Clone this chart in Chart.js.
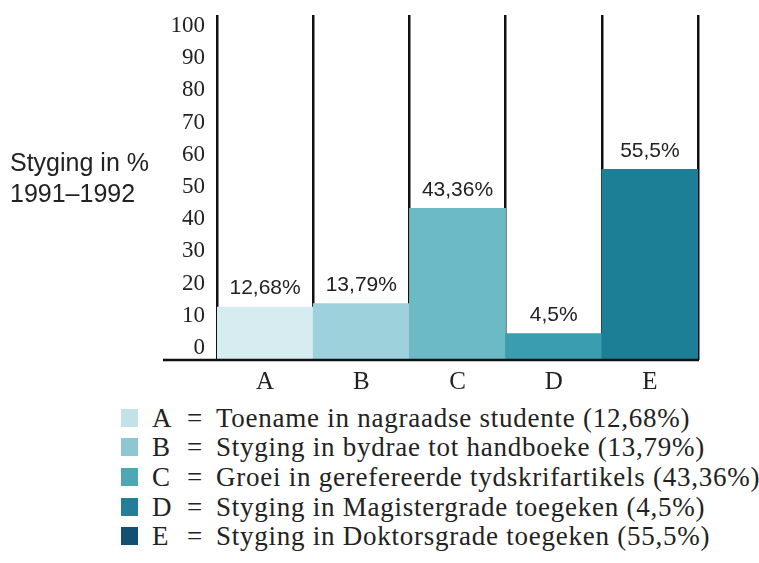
<!DOCTYPE html>
<html>
<head>
<meta charset="utf-8">
<script src="https://cdn.jsdelivr.net/npm/chart.js@4.4.1/dist/chart.umd.min.js"></script>
<style>
  body { margin: 0; background: #fff; width: 759px; height: 563px; position: relative; overflow: hidden; }
  #wrap { position: absolute; left: 0; top: 0; width: 759px; height: 400px; }
  #ytitle { position: absolute; left: 10px; top: 147px; font: 25px "Liberation Sans", Arial, sans-serif; line-height: 31px; color: #222; }
  #legend { position: absolute; left: 0; top: 403.5px; font: 27px "Liberation Serif", serif; color: #222; }
  .row { position: relative; height: 29.7px; line-height: 29.7px; white-space: nowrap; }
  .row .sq { position: absolute; left: 121px; top: 5px; width: 17px; height: 18px; }
  .row .k { position: absolute; left: 152px; }
  .row .eq { position: absolute; left: 187px; }
  .row .t { position: absolute; left: 216px; letter-spacing: 0.75px; }
</style>
</head>
<body>
<div id="wrap"><canvas id="chart"></canvas></div>
<div id="ytitle">Styging in %<br>1991–1992</div>
<div id="legend"></div>
<script>
const categories = ["A", "B", "C", "D", "E"];
const values = [12.68, 13.79, 43.36, 4.5, 55.5];
const descriptions = [
    "Toename in nagraadse studente",
    "Styging in bydrae tot handboeke",
    "Groei in gerefereerde tydskrifartikels",
    "Styging in Magistergrade toegeken",
    "Styging in Doktorsgrade toegeken"
];
const yTicks = [0, 10, 20, 30, 40, 50, 60, 70, 80, 90, 100];
const barColors = ["#d6ecf1", "#9dd2dc", "#6cbac6", "#3a9db0", "#1d7f96"];
const legendColors = ["#c4e0e8", "#8dc7d3", "#4fa7b6", "#237f99", "#124f73"];

const yMin = -3.73;
const yMax = 103.4;
const fmt = v => String(v).replace(".", ",") + "%";

// legend below the chart
const legend = document.getElementById("legend");
categories.forEach((c, i) => {
    const row = document.createElement("div");
    row.className = "row";
    row.innerHTML = '<span class="sq" style="background:' + legendColors[i] + '"></span>' +
        '<span class="k">' + c + '</span><span class="eq">=</span>' +
        '<span class="t">' + descriptions[i] + ' (' + fmt(values[i]) + ')</span>';
    legend.appendChild(row);
});

const valueLabels = {
    id: "valueLabels",
    afterDatasetsDraw(chart) {
        const ctx = chart.ctx;
        const meta = chart.getDatasetMeta(0);
        ctx.save();
        ctx.font = '21px "Liberation Sans", Arial, sans-serif';
        ctx.fillStyle = "#222";
        ctx.textAlign = "center";
        ctx.textBaseline = "bottom";
        meta.data.forEach((bar, i) => {
            ctx.fillText(fmt(values[i]), bar.x, bar.y - 8);
        });
        ctx.restore();
    }
};

const baseline = {
    id: "baseline",
    afterDraw(chart) {
        const ctx = chart.ctx;
        const a = chart.chartArea;
        ctx.save();
        ctx.strokeStyle = "#111";
        ctx.lineWidth = 2.5;
        ctx.beginPath();
        ctx.moveTo(163, a.bottom);
        ctx.lineTo(a.right + 1, a.bottom);
        ctx.stroke();
        ctx.restore();
    }
};

new Chart(document.getElementById("chart"), {
    type: "bar",
    data: {
        labels: categories,
        datasets: [{
            data: values,
            backgroundColor: barColors,
            borderWidth: 0,
            base: yMin,
            barPercentage: 1,
            categoryPercentage: 1
        }]
    },
    options: {
        responsive: true,
        maintainAspectRatio: false,
        animation: false,
        layout: { padding: { top: 15, right: 61, left: 0, bottom: 0 } },
        plugins: { legend: { display: false }, tooltip: { enabled: false } },
        scales: {
            x: {
                z: 1,
                afterFit: s => { s.height = 40; s.paddingLeft = 0; s.paddingRight = 0; },
                grid: { offset: true, color: "#111", lineWidth: 2.5, drawTicks: false },
                border: { display: false },
                ticks: { color: "#222", padding: 7, font: { family: "Liberation Serif", size: 25 } }
            },
            y: {
                min: yMin,
                max: yMax,
                afterFit: s => { s.width = 217; s.paddingTop = 0; s.paddingBottom = 0; },
                afterBuildTicks: s => { s.ticks = yTicks.map(v => ({ value: v })); },
                grid: { display: false, drawTicks: false },
                border: { display: false },
                ticks: { color: "#222", padding: 12, font: { family: "Liberation Serif", size: 23 } }
            }
        }
    },
    plugins: [valueLabels, baseline]
});
</script>
</body>
</html>
